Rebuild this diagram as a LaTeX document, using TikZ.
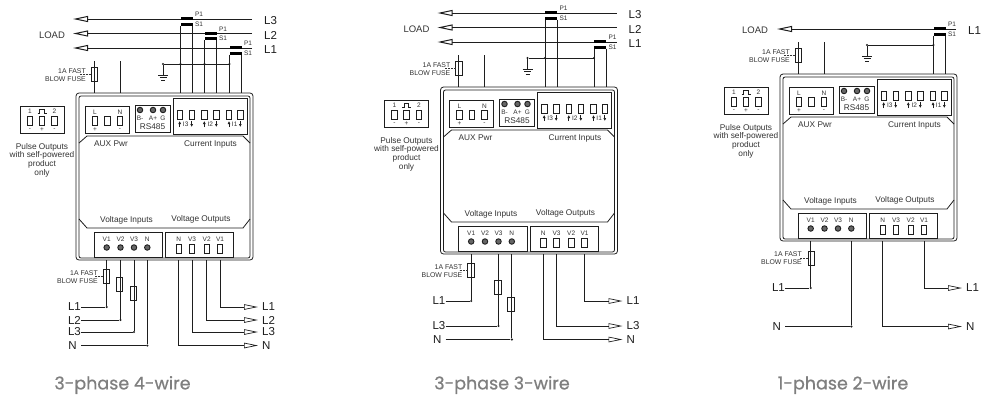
\documentclass[tikz,border=0pt]{standalone}
\usepackage{fontspec}
\setmainfont{Liberation Sans}
\newfontfamily\titlefont[FakeBold=0.6]{Poppins}
\usetikzlibrary{arrows.meta}

\definecolor{inkdark}{HTML}{1E1E1E}
\definecolor{inktext}{HTML}{333333}
\definecolor{titlegray}{HTML}{7F7F7F}

\tikzset{
    wire/.style={line width=0.8pt, draw=inkdark},
    panel/.style={line width=0.8pt, draw=inkdark},
    blockbox/.style={draw=inkdark, line width=0.8pt, inner sep=0pt},
    tinytext/.style={font=\fontsize{6.5}{7}\selectfont, inner sep=0pt, text=inktext},
    captext/.style={font=\fontsize{8.3}{8.7}\selectfont, inner sep=0pt, text=inktext, align=center},
    phasetext/.style={font=\fontsize{11.5}{12}\selectfont, inner sep=0pt, text=inkdark},
    fusetext/.style={font=\fontsize{6.9}{8}\selectfont, inner sep=0pt, text=inktext, align=right},
    term/.style={draw=inkdark, line width=0.8pt, minimum width=5.5pt, minimum height=8.5pt, inner sep=0pt, outer sep=0pt},
    screw/.style={circle, draw=inkdark, line width=0.9pt, fill=black!60, minimum size=5.5pt, inner sep=0pt},
    fusebox/.style={draw=inkdark, line width=0.7pt, minimum width=6.5pt, minimum height=14pt, inner sep=0pt, outer sep=0pt},
    ctbar/.style={fill=black, minimum width=12pt, minimum height=3pt, inner sep=0pt, outer sep=0pt},
    joint/.style={circle, fill=inkdark, minimum size=2.4pt, inner sep=0pt},
    titletext/.style={font=\titlefont\fontsize{17.5}{18}\selectfont, text=titlegray, inner sep=0pt},
    loadtip/.style={-{Triangle[open, length=15pt, width=6pt, line width=1pt]}},
    outtip/.style={-{Triangle[open, length=14pt, width=5.5pt, line width=0.7pt]}},
}

% the meter with its terminal blocks, drawn once per diagram
\newcommand{\meterbody}{
    \draw [panel, rounded corners=3pt] (76,93) rectangle (253,260);
    \draw [panel, rounded corners=2pt] (79,96) rectangle (250,258);
    \draw [panel] (79,143) -- (87,136) -- (243,136) -- (250,143);
    \draw [panel] (79,219) -- (87,228) -- (243,228) -- (250,219);

    % pulse outputs
    \node [blockbox, minimum width=44pt, minimum height=26.5pt] (pulse) at (42,120) {};
    \foreach \px/\pn/\ps in {30/1/-, 42/{}/+, 54.5/2/-} {
        \node [term] (pulse\px) at (\px,121) {};
        \node [tinytext] at (\px,111.5) {\pn};
        \node [tinytext] at (\px,129.5) {\ps};
    }
    \draw [line width=0.9pt, draw=inkdark] (37.5,113.5) -- (39.5,113.5) -- (39.5,109.5) -- (44,109.5) -- (44,113.5) -- (46.5,113.5);
    \node [captext] (pulsetext) at (42,160) {Pulse Outputs\\with self-powered\\product\\only};

    % auxiliary supply
    \node [blockbox, minimum width=44pt, minimum height=27pt] (aux) at (107,119.5) {};
    \foreach \ax in {95, 107.5, 120} {
        \node [term] (aux\ax) at (\ax,121) {};
    }
    \node [tinytext] at (95,112) {L};
    \node [tinytext] at (120,112) {N};
    \node [tinytext] at (95,129.5) {+};
    \node [tinytext] at (120,129.5) {-};
    \node [captext] (auxtext) at (111,144) {AUX Pwr};

    % RS485
    \node [blockbox, minimum width=35pt, minimum height=26.5pt] (bus) at (152.5,118.8) {};
    \foreach \bx/\bn in {140/B-, 153/A+, 163/G} {
        \node [screw] (bus\bn) at (\bx,110) {};
        \node [tinytext] at (\bx,118) {\bn};
    }
    \node [captext] at (152.5,127) {RS485};

    % current inputs
    \node [blockbox, minimum width=74pt, minimum height=35.5pt] (cur) at (210,116.5) {};
    \foreach \cx/\cy/\cn in {179.7/191.7/3, 204.3/216.3/2, 229/240.3/1} {
        \node [term] (cura\cn) at (\cx,115) {};
        \node [term] (curb\cn) at (\cy,115) {};
        \draw [inkdark, line width=0.7pt, -{Latex[length=3pt, width=3pt]}] (\cx,127) -- (\cx,121);
        \draw [inkdark, line width=0.7pt, -{Latex[length=3pt, width=3pt]}] (\cy,121) -- (\cy,127);
        \node [tinytext] at ({(\cx+\cy)/2},124.5) {I\cn};
    }
    \node [captext] (curtext) at (210.5,144) {Current Inputs};

    % voltage blocks
    \node [captext] (vintext) at (126.5,220) {Voltage Inputs};
    \node [captext] (vouttext) at (201,219.5) {Voltage Outputs};
    \node [blockbox, minimum width=68.5pt, minimum height=25pt] (vin) at (128.5,244.8) {};
    \node [blockbox, minimum width=68pt, minimum height=25pt] (vout) at (199.7,244.8) {};
    \foreach \vx/\vn in {106.7/V1, 120.5/V2, 134/V3, 147.3/N} {
        \node [tinytext] at (\vx,239.3) {\vn};
        \node [screw] (in\vn) at (\vx,247.5) {};
        \coordinate (pin\vn) at (\vx,260);
    }
    \foreach \vx/\vn in {178.7/N, 192/V3, 206.7/V2, 220/V1} {
        \node [tinytext] at (\vx,239.3) {\vn};
        \node [term] (out\vn) at (\vx,248.7) {};
        \coordinate (pout\vn) at (\vx,260);
    }

    % supply leads on top
    \coordinate (topl) at (94,61);
    \coordinate (topn) at (120,61);
    \coordinate (entryl) at (94,93);
    \coordinate (entryn) at (120,93);
    \draw [wire] (topl) -- (entryl);
    \draw [wire] (topn) -- (entryn);
    \node [fusebox] (fusetop) at (94.5,74) {};
    \node [fusetext, anchor=east] (fusetoptext) at (86,75) {1A FAST\\BLOW FUSE};
    \draw [line width=0.5pt, inktext, dashed, dash pattern=on 2pt off 1pt] (fusetop.west) -- ++(-11,0);
}

% load line on top: name, text, y
\newcommand{\phaseline}[3]{
    \node [phasetext, anchor=west] (#1text) at (264,#3+1.5) {#2};
    \coordinate (#1end) at (252,#3);
    \coordinate (#1tip) at (73,#3);
    \draw [wire, loadtip] (#1end) -- (#1tip);
}

% current transformer: name, left x, y of the line
\newcommand{\ctcoil}[3]{
    \node [ctbar] (#1p) at (#2+6,#3-0.5) {};
    \node [ctbar] (#1s) at (#2+6,#3+5) {};
    \node [tinytext] (#1ptext) at (#2+18.5,#3-4.5) {P1};
    \node [tinytext] (#1stext) at (#2+18.5,#3+5) {S1};
    \coordinate (#1a) at (#2,93);
    \coordinate (#1b) at (#2+12,93);
    \draw [wire] (#1s.south west) -- (#1a);
    \draw [wire] (#1s.south east) -- (#1b);
}

% earth on the left, wired to the named point
\newcommand{\earth}[1]{
    \node [joint] (gnd) at (163,64) {};
    \coordinate (gndfoot) at (163,75);
    \draw [wire] (gnd) -- (#1);
    \draw [wire] (gnd) -- (gndfoot);
    \draw [wire] (158,75) -- (168,75);
    \draw [wire] (159.5,77.5) -- (166.5,77.5);
    \draw [wire] (161,80) -- (165,80);
}

% lead into a voltage input: name, text, pin, y
\newcommand{\linein}[5][]{
    \node [phasetext, anchor=east, #1] (#2text) at (81,#5) {#3};
    \node [joint] (#2dot) at (#4 |- #2text.east) {};
    \draw [wire] (#2text.east) -- (#2dot);
    \draw [wire] (#4) -- (#2dot);
}

% lead out of a voltage output: name, text, pin, y
\newcommand{\lineout}[4]{
    \node [phasetext, anchor=west, inner xsep=4pt] (#1text) at (258,#4) {#2};
    \draw [wire, outtip] (#3) |- (#1text.west);
}

\newcommand{\fusenode}[3]{
    \node [fusebox] (#1) at (#2,#3) {};
}
\newcommand{\fusenote}{
    \node [fusetext, anchor=east] (fusenotetext) at (98,277) {1A FAST\\BLOW FUSE};
    \draw [line width=0.5pt, inktext, dashed, dash pattern=on 2pt off 1pt] (fuse1.west) -- ++(-9,0);
}

\begin{document}
\begin{tikzpicture}[x=1pt, y=-1pt]
    \useasboundingbox [fill=white] (0,0) rectangle (984,394);

    % 3-phase 4-wire
    \begin{scope}[name prefix=a-]
        \meterbody
        \phaseline{l3}{L3}{19}
        \phaseline{l2}{L2}{33.5}
        \phaseline{l1}{L1}{48}
        \node [captext, font=\fontsize{9.5}{10}\selectfont] (load) at (52,35.5) {LOAD};
        \ctcoil{ct3}{180.5}{19}
        \ctcoil{ct2}{204.5}{33.5}
        \ctcoil{ct1}{229.5}{48}
        \earth{229.5,64}
        \node [joint] at (180.5,64) {};
        \node [joint] at (204.5,64) {};
        \node [joint] at (229.5,64) {};

        \linein{inl1}{L1}{pinV1}{307}
        \linein{inl2}{L2}{pinV2}{320}
        \linein{inl3}{L3}{pinV3}{332}
        \linein[inner xsep=4pt]{inn}{N}{pinN}{345.5}
        \fusenode{fuse1}{106.5}{276.5}
        \fusenode{fuse2}{119.5}{284.7}
        \fusenode{fuse3}{133.2}{293}
        \fusenote

        \lineout{outl1}{L1}{poutV1}{307}
        \lineout{outl2}{L2}{poutV2}{320}
        \lineout{outl3}{L3}{poutV3}{332}
        \lineout{outn}{N}{poutN}{345.5}
        \node [titletext] (title) at (122.5,385) {3-phase 4-wire};
    \end{scope}

    % 3-phase 3-wire
    \begin{scope}[shift={(364.5,-6)}, name prefix=b-]
        \meterbody
        \phaseline{l3}{L3}{19}
        \phaseline{l2}{L2}{33.5}
        \phaseline{l1}{L1}{48}
        \node [captext, font=\fontsize{9.5}{10}\selectfont] (load) at (52,35.5) {LOAD};
        \ctcoil{ct3}{180.5}{19}
        \ctcoil{ct1}{229.5}{48}
        \earth{229.5,64}
        \node [joint] at (180.5,64) {};
        \node [joint] at (229.5,64) {};

        \linein{inl1}{L1}{pinV1}{307}
        \linein{inl3}{L3}{pinV3}{332}
        \linein[inner xsep=4pt]{inn}{N}{pinN}{345.5}
        \fusenode{fuse1}{106.5}{276.5}
        \fusenode{fuse2}{133.2}{293}
        \fusenode{fuse3}{146.3}{310}
        \fusenote

        \lineout{outl1}{L1}{poutV1}{307}
        \lineout{outl3}{L3}{poutV3}{332}
        \lineout{outn}{N}{poutN}{345.5}
        \node [titletext] (title) at (137.5,391) {3-phase 3-wire};
    \end{scope}

    % 1-phase 2-wire
    \begin{scope}[shift={(704,-19)}, name prefix=c-]
        \meterbody
        \phaseline{l1}{L1}{48}
        \node [captext, font=\fontsize{9.5}{10}\selectfont] (load) at (51,49.5) {LOAD};
        \ctcoil{ct1}{229.5}{48}
        \earth{229.5,64}
        \node [joint] at (229.5,64) {};

        \linein{inl1}{L1}{pinV1}{307}
        \linein[inner xsep=4pt]{inn}{N}{pinN}{345.5}
        \fusenode{fuse1}{107.2}{277}
        \fusenote

        \lineout{outl1}{L1}{poutV1}{307}
        \lineout{outn}{N}{poutN}{345.5}
        \node [titletext] (title) at (139,404) {1-phase 2-wire};
    \end{scope}
\end{tikzpicture}
\end{document}
